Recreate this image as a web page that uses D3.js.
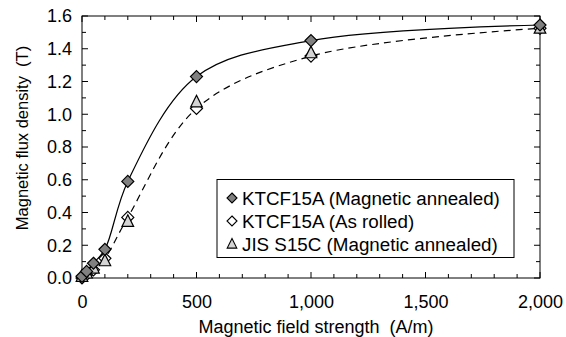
<!DOCTYPE html>
<html><head><meta charset="utf-8">
<script src="https://cdn.jsdelivr.net/npm/d3@7"></script>
<style>body{margin:0;background:#fff}svg{display:block}text{font-family:"Liberation Sans",Arial,sans-serif;fill:#000;white-space:pre}</style>
</head><body><svg id="c" width="566" height="337"></svg>
<script>
const fieldH = [0, 20, 50, 100, 200, 500, 1000, 2000];
const annealedKTCF = [0.01, 0.04, 0.09, 0.175, 0.59, 1.23, 1.45, 1.545];
const rolledKTCF = [0.0, 0.02, 0.05, 0.12, 0.37, 1.035, 1.355, 1.525];
const annealedS15C = [0.01, 0.03, 0.06, 0.105, 0.345, 1.075, 1.375, 1.525];
const seriesNames = ["KTCF15A (Magnetic annealed)", "KTCF15A (As rolled)", "JIS S15C (Magnetic annealed)"];
const xTicks = [0, 500, 1000, 1500, 2000];
const yTicks = [0, 0.2, 0.4, 0.6, 0.8, 1.0, 1.2, 1.4, 1.6];

const svg = d3.select("#c");
const L = 82, R = 540, T = 16, B = 278;
const x = d3.scaleLinear().domain([0, 2000]).range([L, R]);
const y = d3.scaleLinear().domain([0, 1.6]).range([B, T]);

svg.append("rect").attr("x", L).attr("y", T).attr("width", R - L).attr("height", B - T)
  .attr("fill", "none").attr("stroke", "#000").attr("stroke-width", 1);

const g = svg.append("g");
const minorX = d3.range(0, 2001, 100), minorY = d3.range(0, 1.61, 0.1);
minorX.forEach(v => {
  const maj = v % 500 === 0, len = maj ? 6 : 4;
  g.append("line").attr("x1", x(v)).attr("x2", x(v)).attr("y1", B).attr("y2", B - len).attr("stroke", "#000");
  g.append("line").attr("x1", x(v)).attr("x2", x(v)).attr("y1", T).attr("y2", T + len).attr("stroke", "#000");
});
minorY.forEach((v, i) => {
  const maj = i % 2 === 0, len = maj ? 6 : 4;
  g.append("line").attr("y1", y(v)).attr("y2", y(v)).attr("x1", L).attr("x2", L + len).attr("stroke", "#000");
  g.append("line").attr("y1", y(v)).attr("y2", y(v)).attr("x1", R).attr("x2", R - len).attr("stroke", "#000");
});

const xa = svg.append("g").attr("transform", `translate(0,${B})`)
  .call(d3.axisBottom(x).tickValues(xTicks).tickSize(0).tickPadding(17).tickFormat(d3.format(",")));
const ya = svg.append("g").attr("transform", `translate(${L},0)`)
  .call(d3.axisLeft(y).tickValues(yTicks).tickSize(0).tickPadding(10).tickFormat(d3.format(".1f")));
[xa, ya].forEach(a => { a.select(".domain").remove(); a.attr("font-size", 18).attr("font-family", "Liberation Sans, Arial, sans-serif");
  a.selectAll("text").attr("font-size", 18).attr("font-family", "Liberation Sans, Arial, sans-serif"); });

svg.append("text").attr("x", 316).attr("y", 333).attr("text-anchor", "middle").attr("font-size", 18)
  .text("Magnetic field strength  (A/m)");
svg.append("text").attr("transform", `translate(28,${138}) rotate(-90)`).attr("text-anchor", "middle").attr("font-size", 16.5)
  .text("Magnetic flux density  (T)");

const line = d3.line().x((d, i) => x(fieldH[i])).y(d => y(d)).curve(d3.curveCatmullRom.alpha(0.5));
svg.append("path").attr("d", line(annealedKTCF)).attr("fill", "none").attr("stroke", "#000").attr("stroke-width", 1.2);
svg.append("path").attr("d", line(rolledKTCF)).attr("fill", "none").attr("stroke", "#000").attr("stroke-width", 1.2).attr("stroke-dasharray", "7,5");

const diamond = s => `M0,${-s}L${s},0L0,${s}L${-s},0Z`;
const tri = s => `M0,${-s*1.15}L${s},${s*0.85}L${-s},${s*0.85}Z`;
function drawMarkers(vals, path, fill) {
  svg.append("g").selectAll("path").data(vals).join("path")
    .attr("transform", (d, i) => `translate(${x(fieldH[i])},${y(d)})`)
    .attr("d", path).attr("fill", fill).attr("stroke", "#000").attr("stroke-width", 1.2);
}
drawMarkers(rolledKTCF, diamond(6), "#fff");
drawMarkers(annealedS15C, tri(5.8), "#d4d4d4");
drawMarkers(annealedKTCF, diamond(6), "#808080");

const lg = svg.append("g");
lg.append("rect").attr("x", 217).attr("y", 179.5).attr("width", 297).attr("height", 78)
  .attr("fill", "#fff").attr("stroke", "#000").attr("stroke-width", 1);
const legPaths = [diamond(5), diamond(5), tri(4.8)], legFills = ["#808080", "#fff", "#d4d4d4"];
seriesNames.forEach((n, i) => {
  const cy = 198 + i * 23;
  lg.append("path").attr("transform", `translate(232,${cy})`).attr("d", legPaths[i]).attr("fill", legFills[i]).attr("stroke", "#000").attr("stroke-width", 1.1);
  lg.append("text").attr("x", 242).attr("y", cy + 6.5).attr("font-size", 18.8).text(n);
});
</script></body></html>
